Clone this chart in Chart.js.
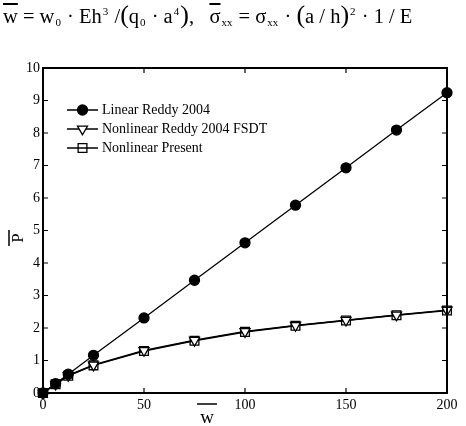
<!DOCTYPE html>
<html>
<head>
<meta charset="utf-8">
<script src="https://cdn.jsdelivr.net/npm/chart.js@4.4.1/dist/chart.umd.min.js"></script>
<style>
  body { margin: 0; background: #fff; }
  #wrap { position: relative; width: 466px; height: 426px; }
  #chart { position: absolute; left: 0; top: 0; }
  #formula {
    position: absolute; left: 3px; top: 2px; white-space: nowrap;
    font: 20.5px "Liberation Serif", serif; line-height: 26px; color: #000;
  }
  #formula sub, #formula sup { font-size: 11px; position: relative; vertical-align: baseline; margin: 0 1px; }
  #formula sub { top: 3px; }
  #formula sup { top: -8px; }
  .ov { text-decoration: overline; }
  .big { font-size: 26px; }
</style>
</head>
<body>
<div id="wrap">
  <canvas id="chart" width="466" height="426"></canvas>
  <div id="formula"><span class="ov">w</span> = w<sub>0</sub> · Eh<sup>3</sup> /<span class="big">(</span>q<sub>0</sub> · a<sup>4</sup><span class="big">)</span>,&nbsp;&nbsp;&nbsp;<span class="ov">σ</span><sub>xx</sub> = σ<sub>xx</sub> · <span class="big">(</span>a / h<span class="big">)</span><sup>2</sup> · 1 / E</div>
</div>
<script>
// load parameter w-bar and dimensionless load P-bar
const wLoad = [0, 6.25, 12.5, 25, 50, 75, 100, 125, 150, 175, 200];
const linearReddy = [0, 0.29, 0.58, 1.16, 2.31, 3.47, 4.62, 5.78, 6.93, 8.09, 9.24];
const nonlinReddyFSDT = [0, 0.27, 0.54, 0.86, 1.31, 1.62, 1.89, 2.08, 2.24, 2.40, 2.55];
const nonlinPresent = [0, 0.27, 0.53, 0.85, 1.29, 1.61, 1.88, 2.07, 2.23, 2.39, 2.54];
const seriesNames = ['Linear Reddy 2004', 'Nonlinear Reddy 2004 FSDT', 'Nonlinear Present'];
const xTicks = [0, 50, 100, 150, 200];
const yTicks = [0, 1, 2, 3, 4, 5, 6, 7, 8, 9, 10];

const pts = ys => wLoad.map((x, i) => ({x: x, y: ys[i]}));
const serif = '"Liberation Serif", serif';

// box, inward ticks, legend and axis titles
const frame = {
  id: 'frame',
  afterDraw(chart) {
    const {ctx, chartArea: a, scales: {x, y}} = chart;
    ctx.save();
    ctx.strokeStyle = '#000';
    ctx.lineWidth = 1.2;
    ctx.beginPath();
    xTicks.forEach(v => {
      const px = x.getPixelForValue(v);
      ctx.moveTo(px, a.bottom); ctx.lineTo(px, a.bottom - 5);
      ctx.moveTo(px, a.top); ctx.lineTo(px, a.top + 5);
    });
    yTicks.forEach(v => {
      const py = y.getPixelForValue(v);
      ctx.moveTo(a.left, py); ctx.lineTo(a.left + 5, py);
      ctx.moveTo(a.right, py); ctx.lineTo(a.right - 5, py);
    });
    ctx.stroke();
    ctx.lineWidth = 2;
    ctx.strokeRect(a.left, a.top, a.right - a.left, a.bottom - a.top);

    // legend
    ctx.font = '14px ' + serif;
    ctx.textBaseline = 'middle';
    chart.data.datasets.forEach((ds, i) => {
      const ly = 110 + i * 19;
      ctx.strokeStyle = '#000';
      ctx.lineWidth = 1.5;
      ctx.beginPath(); ctx.moveTo(67, ly); ctx.lineTo(98, ly); ctx.stroke();
      ctx.fillStyle = ds.pointBackgroundColor;
      ctx.lineWidth = ds.pointBorderWidth;
      Chart.helpers.drawPoint(ctx, {
        pointStyle: ds.pointStyle, rotation: ds.pointRotation || 0,
        radius: ds.pointRadius, borderWidth: ds.pointBorderWidth
      }, 82.5, ly);
      ctx.fillStyle = '#000';
      ctx.fillText(ds.label, 102, ly);
    });

    // x title
    ctx.font = '19px ' + serif;
    ctx.textAlign = 'center';
    ctx.textBaseline = 'alphabetic';
    ctx.fillText('w', 207, 423);
    ctx.lineWidth = 1.5;
    ctx.beginPath(); ctx.moveTo(197, 404); ctx.lineTo(217, 404); ctx.stroke();

    // y title
    ctx.save();
    ctx.translate(23, 238);
    ctx.rotate(-Math.PI / 2);
    ctx.font = '17px ' + serif;
    ctx.fillText('P', 0, 0);
    ctx.beginPath(); ctx.moveTo(-8, -14); ctx.lineTo(8, -14); ctx.stroke();
    ctx.restore();
    ctx.restore();
  }
};

const lineDs = (label, ys, style, radius, fill, width, rot) => ({
  label: label,
  data: pts(ys),
  borderColor: '#000',
  borderWidth: width,
  backgroundColor: fill,
  pointStyle: style,
  pointRadius: radius,
  pointRotation: rot || 0,
  pointBorderWidth: 1.3,
  pointBackgroundColor: fill,
  pointBorderColor: '#000',
  clip: false,
  tension: 0
});

new Chart(document.getElementById('chart'), {
  type: 'line',
  data: {
    datasets: [
      lineDs(seriesNames[0], linearReddy, 'circle', 5, '#000', 1.3),
      lineDs(seriesNames[1], nonlinReddyFSDT, 'triangle', 5.8, '#fff', 1.5, 180),
      lineDs(seriesNames[2], nonlinPresent, 'rect', 6.2, 'rgba(255,255,255,0)', 1.5)
    ]
  },
  options: {
    responsive: false,
    animation: false,
    layout: { padding: { left: 0, right: 19, top: 68, bottom: 0 } },
    plugins: { legend: { display: false }, tooltip: { enabled: false } },
    scales: {
      x: {
        type: 'linear', min: 0, max: 200,
        afterFit: s => { s.height = 33; },
        afterBuildTicks: s => { s.ticks = xTicks.map(v => ({value: v})); },
        grid: { display: false, drawTicks: false },
        border: { display: false },
        ticks: { color: '#000', padding: 4, font: { family: serif, size: 14 }, maxRotation: 0 }
      },
      y: {
        type: 'linear', min: 0, max: 10,
        afterFit: s => { s.width = 43; },
        afterBuildTicks: s => { s.ticks = yTicks.map(v => ({value: v})); },
        grid: { display: false, drawTicks: false },
        border: { display: false },
        ticks: { color: '#000', padding: 3, font: { family: serif, size: 14 } }
      }
    }
  },
  plugins: [frame]
});
</script>
</body>
</html>
